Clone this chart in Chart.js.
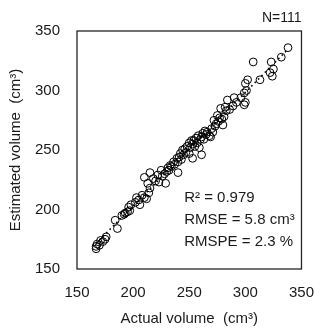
<!DOCTYPE html>
<html><head><meta charset="utf-8">
<script src="https://cdn.jsdelivr.net/npm/chart.js@4.4.0/dist/chart.umd.min.js"></script>
<style>html,body{margin:0;padding:0;background:#fff;}canvas{display:block;}</style>
</head><body>
<canvas id="c" width="329" height="329"></canvas>
<script>
const actualVolume = [167,167,168,170,171,173,175,176,
186,184,190,192,193,195,196,197,198,
202,203,205,206,208,210,212,214,
210,213,215,215,218,220,222,223,225,226,228,229,230,231,232,233,234,
236,237,239,240,240,241,242,243,244,245,246,247,248,
250,250,251,252,253,253,254,255,256,257,258,259,260,261,261,262,263,264,265,266,268,269,
270,271,272,273,274,275,276,277,278,279,280,281,282,283,284,286,289,290,292,296,
299,300,299,301,300,302,307,313,322,323,325,332,338,324];
const estimatedVolume = [167,169,171,170,174,173,175,177,
184,191,195,196,197,198,202,199,204,
206,210,208,204,212,210,209,214,
227,222,218,231,226,224,229,223,233,228,230,222,232,235,233,237,236,
240,238,243,231,240,244,247,242,250,246,251,248,253,
247,256,252,258,243,255,258,253,260,256,262,252,259,261,246,264,259,266,263,265,262,261,
268,265,275,270,272,279,274,277,285,276,271,278,286,283,292,284,287,294,290,294,
288,290,298,300,306,309,324,309,315,324,318,328,336,312];
const axisTicks = [150,200,250,300,350];
const xTitle = 'Actual volume  (cm³)';
const yTitle = 'Estimated volume  (cm³)';
const sampleLabel = 'N=111';
const statLines = ['R² = 0.979','RMSE = 5.8 cm³','RMSPE = 2.3 %'];

const pts = actualVolume.map((x,i)=>({x:x,y:estimatedVolume[i]}));
// least-squares trendline over the data
const n = pts.length;
const mx = actualVolume.reduce((a,b)=>a+b,0)/n;
const my = estimatedVolume.reduce((a,b)=>a+b,0)/n;
let sxy=0,sxx=0;
for(let i=0;i<n;i++){sxy+=(actualVolume[i]-mx)*(estimatedVolume[i]-my);sxx+=(actualVolume[i]-mx)**2;}
const slope=sxy/sxx, icpt=my-slope*mx;
const xmin=Math.min(...actualVolume), xmax=Math.max(...actualVolume);
const trend=[{x:xmin,y:icpt+slope*xmin},{x:xmax,y:icpt+slope*xmax}];

const FONT = 'Liberation Sans';
const TXT = '#1a1a1a';

const overlay = {
  id:'overlay',
  afterDraw(chart){
    const {ctx, chartArea:a} = chart;
    ctx.save();
    ctx.strokeStyle='#262626'; ctx.lineWidth=1.3;
    ctx.strokeRect(a.left, a.top, a.right-a.left, a.bottom-a.top);
    ctx.fillStyle=TXT;
    ctx.font = '14px "'+FONT+'"';
    ctx.textBaseline='middle';
    ctx.textAlign='right';
    ctx.fillText(sampleLabel, a.right, 18);
    ctx.textAlign='left';
    ctx.font = '15px "'+FONT+'"';
    const xs = chart.scales.x, ys = chart.scales.y;
    const sx = xs.getPixelForValue(245.5);
    const sy0 = ys.getPixelForValue(210);
    statLines.forEach((t,i)=>ctx.fillText(t, sx, sy0 + i*22));
    ctx.restore();
  }
};

new Chart(document.getElementById('c'), {
  type:'scatter',
  data:{datasets:[
    {type:'line', data:trend, borderColor:'#000', borderWidth:1.6, borderDash:[1.6,3.2], pointRadius:0, fill:false, order:2},
    {data:pts, pointStyle:'circle', pointRadius:3.9, pointBorderWidth:1, borderColor:'#000', backgroundColor:'rgba(0,0,0,0)', pointBackgroundColor:'rgba(0,0,0,0)', pointBorderColor:'#000', order:1}
  ]},
  options:{
    responsive:false, animation:false, devicePixelRatio:1,
    layout:{padding:{left:0,top:31,right:17,bottom:0}},
    plugins:{legend:{display:false}, tooltip:{enabled:false}},
    scales:{
      x:{type:'linear', min:150, max:350,
        afterBuildTicks(s){s.ticks=axisTicks.map(v=>({value:v}));},
        afterFit(s){s.height=60;},
        grid:{display:false, drawTicks:false}, border:{display:false},
        ticks:{padding:15, color:TXT, font:{family:FONT,size:15}},
        title:{display:true, text:xTitle, color:TXT, font:{family:FONT,size:15}, padding:{top:1,bottom:1}}
      },
      y:{type:'linear', min:150, max:350,
        afterBuildTicks(s){s.ticks=axisTicks.map(v=>({value:v}));},
        afterFit(s){s.width=77;},
        grid:{display:false, drawTicks:false}, border:{display:false},
        ticks:{padding:17, color:TXT, font:{family:FONT,size:15}},
        title:{display:true, text:yTitle, color:TXT, font:{family:FONT,size:15}, padding:{top:7,bottom:1}}
      }
    }
  },
  plugins:[overlay]
});
</script>
</body></html>
